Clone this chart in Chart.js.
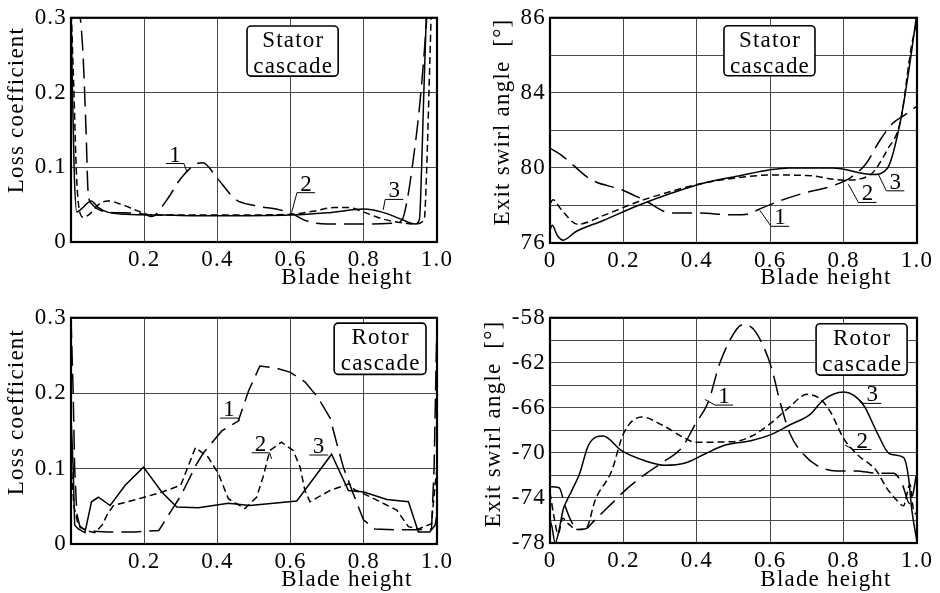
<!DOCTYPE html>
<html>
<head>
<meta charset="utf-8">
<script src="https://cdn.jsdelivr.net/npm/chart.js@4/dist/chart.umd.min.js"></script>
<style>
  html, body { margin: 0; padding: 0; background: #fff; }
  #wrap { position: relative; width: 940px; height: 593px; overflow: hidden; background: #fff; }
  #wrap canvas { position: absolute; }
</style>
</head>
<body>
<div id="wrap">
  <canvas id="statorLoss"  width="470" height="300" style="left:0;top:0;width:470px;height:300px"></canvas>
  <canvas id="statorAngle" width="470" height="300" style="left:470px;top:0;width:470px;height:300px"></canvas>
  <canvas id="rotorLoss"   width="470" height="293" style="left:0;top:300px;width:470px;height:293px"></canvas>
  <canvas id="rotorAngle"  width="470" height="293" style="left:470px;top:300px;width:470px;height:293px"></canvas>
</div>
<script>
// ---- tick labels ----
const X_TICKS_LOSS  = ['', '0.2', '0.4', '0.6', '0.8', '1.0'];
const X_TICKS_ANGLE = ['0', '0.2', '0.4', '0.6', '0.8', '1.0'];
const Y_TICKS_LOSS  = ['0', '0.1', '0.2', '0.3'];
const Y_TICKS_STATOR_ANGLE = ['76', '', '80', '', '84', '', '86'];
const Y_TICKS_ROTOR_ANGLE  = ['-78', '', '-74', '', '-70', '', '-66', '', '-62', '', '-58'];

// ---- stator cascade: loss coefficient vs blade height ----
const STATOR_LOSS_1 = [[0.022,0.32],[0.033,0.25],[0.041,0.15],[0.047,0.065],[0.055,0.052],[0.07,0.045],[0.1,0.04],[0.15,0.039],[0.2,0.037],[0.22,0.034],[0.26,0.055],[0.3,0.085],[0.34,0.104],[0.36,0.106],[0.4,0.085],[0.45,0.057],[0.5,0.049],[0.57,0.043],[0.6,0.039],[0.63,0.031],[0.66,0.026],[0.7,0.024],[0.8,0.024],[0.88,0.025],[0.905,0.03],[0.92,0.06],[0.935,0.11],[0.95,0.17],[0.963,0.24],[0.975,0.32]];
const STATOR_LOSS_2 = [[0,0.32],[0.008,0.2],[0.015,0.09],[0.022,0.045],[0.034,0.033],[0.05,0.037],[0.075,0.05],[0.1,0.055],[0.14,0.05],[0.18,0.042],[0.22,0.036],[0.3,0.036],[0.45,0.036],[0.6,0.037],[0.66,0.041],[0.72,0.046],[0.76,0.046],[0.8,0.04],[0.85,0.031],[0.9,0.026],[0.94,0.024],[0.965,0.03],[0.972,0.1],[0.978,0.2],[0.985,0.32]];
const STATOR_LOSS_3 = [[0,0.32],[0.004,0.2],[0.009,0.09],[0.016,0.04],[0.03,0.045],[0.055,0.055],[0.075,0.046],[0.1,0.04],[0.15,0.037],[0.25,0.036],[0.4,0.035],[0.6,0.036],[0.7,0.039],[0.8,0.044],[0.85,0.04],[0.9,0.031],[0.94,0.024],[0.952,0.03],[0.958,0.1],[0.964,0.2],[0.972,0.32]];

// ---- stator cascade: exit swirl angle vs blade height ----
const STATOR_ANGLE_1 = [[0,81.05],[0.03,80.7],[0.06,80.2],[0.11,79.4],[0.2,78.8],[0.26,78.25],[0.33,77.6],[0.4,77.6],[0.5,77.5],[0.54,77.55],[0.57,77.8],[0.62,78.2],[0.69,78.65],[0.77,79.05],[0.82,79.5],[0.86,80.2],[0.9,81.5],[0.935,82.4],[0.965,82.8],[1.0,83.3]];
const STATOR_ANGLE_2 = [[0,78.1],[0.008,78.3],[0.03,77.8],[0.075,77.0],[0.15,77.5],[0.24,78.2],[0.33,78.75],[0.42,79.2],[0.5,79.45],[0.6,79.62],[0.7,79.6],[0.8,79.35],[0.87,79.6],[0.92,81.0],[0.955,82.5],[0.985,86.5],[1.0,87.8]];
const STATOR_ANGLE_3 = [[0,76.7],[0.006,76.95],[0.02,76.4],[0.036,76.15],[0.07,76.6],[0.145,77.2],[0.24,78.0],[0.33,78.65],[0.42,79.2],[0.52,79.6],[0.6,79.9],[0.65,80.0],[0.77,80.0],[0.88,79.65],[0.92,80.0],[0.955,82.5],[0.98,85.5],[1.0,88.3]];

// ---- rotor cascade: loss coefficient vs blade height ----
const ROTOR_LOSS_1 = [[0,0.3],[0.006,0.2],[0.01,0.1],[0.016,0.04],[0.025,0.022],[0.05,0.017],[0.1,0.016],[0.175,0.016],[0.24,0.018],[0.275,0.045],[0.3,0.064],[0.343,0.106],[0.362,0.121],[0.412,0.15],[0.457,0.163],[0.485,0.203],[0.516,0.236],[0.562,0.233],[0.598,0.228],[0.639,0.215],[0.675,0.194],[0.708,0.167],[0.727,0.132],[0.744,0.102],[0.771,0.067],[0.799,0.032],[0.83,0.02],[0.885,0.019],[0.95,0.019],[0.985,0.02],[0.992,0.1],[0.996,0.2],[1.0,0.3]];
const ROTOR_LOSS_2 = [[0,0.11],[0.008,0.05],[0.02,0.025],[0.04,0.018],[0.065,0.015],[0.085,0.025],[0.1,0.04],[0.116,0.051],[0.2,0.062],[0.25,0.069],[0.3,0.078],[0.34,0.128],[0.375,0.115],[0.403,0.093],[0.43,0.06],[0.475,0.047],[0.507,0.062],[0.525,0.089],[0.543,0.124],[0.575,0.135],[0.607,0.124],[0.626,0.102],[0.639,0.071],[0.653,0.056],[0.708,0.071],[0.76,0.08],[0.775,0.072],[0.82,0.062],[0.89,0.045],[0.922,0.023],[0.95,0.02],[0.985,0.027],[0.995,0.08],[1.0,0.1]];
const ROTOR_LOSS_3 = [[0,0.17],[0.006,0.1],[0.01,0.025],[0.02,0.02],[0.038,0.015],[0.056,0.056],[0.075,0.062],[0.107,0.051],[0.148,0.078],[0.198,0.102],[0.248,0.069],[0.289,0.049],[0.348,0.048],[0.43,0.054],[0.489,0.051],[0.617,0.057],[0.712,0.119],[0.758,0.071],[0.8,0.069],[0.863,0.059],[0.922,0.056],[0.949,0.016],[0.98,0.016],[0.995,0.025],[1.0,0.04]];

// ---- rotor cascade: exit swirl angle vs blade height ----
const ROTOR_ANGLE_1 = [[0,-73.0],[0.025,-73.1],[0.04,-74.6],[0.06,-76.2],[0.08,-76.8],[0.1,-76.7],[0.118,-76.1],[0.168,-74.5],[0.204,-73.35],[0.259,-71.9],[0.313,-70.7],[0.359,-69.55],[0.395,-67.5],[0.431,-65.5],[0.463,-62.0],[0.509,-59.0],[0.527,-58.6],[0.554,-59.0],[0.581,-60.5],[0.604,-62.5],[0.627,-65.5],[0.654,-68.3],[0.69,-70.1],[0.727,-71.1],[0.78,-71.6],[0.835,-71.6],[0.89,-71.8],[0.936,-71.8],[0.96,-72.8],[0.98,-74.5],[0.99,-73.5],[1.0,-71.5]];
const ROTOR_ANGLE_2 = [[0,-73.5],[0.01,-75.5],[0.022,-77.2],[0.035,-75.8],[0.05,-76.3],[0.075,-76.8],[0.1,-76.6],[0.123,-74.2],[0.168,-71.6],[0.2,-68.3],[0.25,-66.8],[0.304,-67.5],[0.368,-68.7],[0.395,-69.05],[0.5,-69.0],[0.55,-68.5],[0.6,-67.4],[0.65,-66.0],[0.7,-64.8],[0.736,-65.2],[0.763,-66.3],[0.8,-68.7],[0.836,-70.1],[0.89,-71.6],[0.917,-73.1],[0.945,-74.2],[0.963,-74.7],[0.981,-72.8],[0.99,-75.0],[1.0,-75.5]];
const ROTOR_ANGLE_3 = [[0,-76.0],[0.005,-76.5],[0.014,-78.0],[0.025,-76.8],[0.036,-75.0],[0.045,-74.3],[0.06,-73.3],[0.08,-71.9],[0.105,-69.3],[0.145,-68.5],[0.195,-69.8],[0.259,-70.7],[0.313,-71.1],[0.368,-70.9],[0.422,-70.1],[0.477,-69.3],[0.55,-68.9],[0.6,-68.4],[0.654,-67.5],[0.708,-66.6],[0.745,-65.3],[0.8,-64.6],[0.854,-65.75],[0.89,-68.1],[0.926,-70.1],[0.963,-70.4],[0.977,-72.2],[0.986,-75.1],[0.999,-77.7]];

// ---- styling ----
const FONT_FAMILY = '"Liberation Serif", "Times New Roman", serif';
const FONT_SIZE = 23;
const LETTER_SPACING = '1.2px';
const DASHES = [[20, 8], [7, 4], []];   // curve 1 long dash, curve 2 short dash, curve 3 solid

// Frame, legend box, numbered call-outs and axis titles.
const decor = {
  id: 'decor',
  beforeDraw(chart) {
    chart.ctx.letterSpacing = LETTER_SPACING;
  },
  afterDatasetsDraw(chart, args, o) {
    const { ctx, chartArea: a, scales: { x, y } } = chart;
    ctx.save();
    ctx.letterSpacing = LETTER_SPACING;
    ctx.fillStyle = '#000';
    ctx.strokeStyle = '#000';

    // plot frame
    ctx.lineWidth = 2.2;
    ctx.setLineDash([]);
    ctx.strokeRect(a.left, a.top, a.right - a.left, a.bottom - a.top);

    ctx.font = `${FONT_SIZE}px ${FONT_FAMILY}`;

    // cascade name box
    if (o.box) {
      const bx0 = x.getPixelForValue(o.box.x0), bx1 = x.getPixelForValue(o.box.x1);
      const by0 = y.getPixelForValue(o.box.y0), by1 = y.getPixelForValue(o.box.y1);
      ctx.beginPath();
      ctx.roundRect(bx0, by0, bx1 - bx0, by1 - by0, 4);
      ctx.fillStyle = '#fff';
      ctx.fill();
      ctx.lineWidth = 1.6;
      ctx.stroke();
      ctx.fillStyle = '#000';
      ctx.textAlign = 'center';
      ctx.textBaseline = 'alphabetic';
      const cx = (bx0 + bx1) / 2 + 0.6;
      o.box.lines.forEach((t, i) => ctx.fillText(t, cx, by0 + 21 + i * 26));
    }

    // numbered curve call-outs
    ctx.lineWidth = 1;
    ctx.textAlign = 'center';
    ctx.textBaseline = 'alphabetic';
    (o.callouts || []).forEach(c => {
      const tx = x.getPixelForValue(c.tx), ty = y.getPixelForValue(c.ty);
      const px = x.getPixelForValue(c.px), py = y.getPixelForValue(c.py);
      ctx.fillText(c.n, tx + 0.6, ty - 2);
      const x0 = tx - 9, x1 = tx + 9;
      const end = Math.abs(px - x0) < Math.abs(px - x1) ? x0 : x1;
      ctx.beginPath();
      ctx.moveTo(x0, ty);
      ctx.lineTo(x1, ty);
      ctx.moveTo(end, ty);
      ctx.lineTo(px, py);
      ctx.stroke();
    });

    // axis titles
    if (o.xTitle) {
      ctx.textAlign = 'center';
      ctx.textBaseline = 'middle';
      ctx.fillText(o.xTitle.text, o.xTitle.cx, o.xTitle.cy);
    }
    if (o.yTitle) {
      ctx.translate(o.yTitle.cx, o.yTitle.cy);
      ctx.rotate(-Math.PI / 2);
      ctx.textAlign = 'center';
      ctx.textBaseline = 'middle';
      ctx.fillText(o.yTitle.text, 0, 0);
    }
    ctx.restore();
  }
};

function build(id, spec) {
  const tickFont = { family: FONT_FAMILY, size: FONT_SIZE };
  const grid = { color: '#4a4a4a', lineWidth: 1, drawTicks: false };
  return new Chart(document.getElementById(id), {
    type: 'line',
    data: {
      datasets: spec.series.map((s, i) => ({
        data: s,
        borderColor: '#000',
        borderWidth: 1.5,
        borderDash: DASHES[i],
        pointRadius: 0,
        fill: false,
        tension: spec.smooth ? 0.4 : 0,
        cubicInterpolationMode: spec.smooth ? 'monotone' : 'default'
      }))
    },
    options: {
      responsive: false,
      animation: false,
      events: [],
      layout: { padding: spec.pad },
      plugins: {
        legend: { display: false },
        tooltip: { enabled: false },
        decor: spec.decor
      },
      scales: {
        x: {
          type: 'linear', min: 0, max: 1,
          afterFit(s) { s.height = spec.xh; },
          grid, border: { display: false },
          ticks: {
            stepSize: 0.2, autoSkip: false, maxRotation: 0, padding: 4,
            color: '#000', font: tickFont,
            callback: (v, i) => spec.xLabels[i]
          }
        },
        y: {
          type: 'linear', min: spec.yMin, max: spec.yMax,
          afterFit(s) { s.width = spec.yw; },
          grid, border: { display: false },
          ticks: {
            stepSize: spec.yStep, autoSkip: false, padding: 4,
            color: '#000', font: tickFont,
            callback: (v, i) => spec.yLabels[i]
          }
        }
      }
    },
    plugins: [decor]
  });
}

build('statorLoss', {
  series: [STATOR_LOSS_1, STATOR_LOSS_2, STATOR_LOSS_3], smooth: true,
  pad: { left: 0, top: 14, right: 33, bottom: 0 }, yw: 71, xh: 58,
  yMin: 0, yMax: 0.3, yStep: 0.1, xLabels: X_TICKS_LOSS, yLabels: Y_TICKS_LOSS,
  decor: {
    box: { x0: 0.481, x1: 0.73, y0: 0.289, y1: 0.222, lines: ['Stator', 'cascade'] },
    callouts: [
      { n: '1', tx: 0.284, ty: 0.105, px: 0.316, py: 0.095 },
      { n: '2', tx: 0.642, ty: 0.066, px: 0.603, py: 0.040 },
      { n: '3', tx: 0.883, ty: 0.057, px: 0.853, py: 0.043 }
    ],
    xTitle: { text: 'Blade height', cx: 347, cy: 278 },
    yTitle: { text: 'Loss coefficient', cx: 17, cy: 110 }
  }
});

build('statorAngle', {
  series: [STATOR_ANGLE_1, STATOR_ANGLE_2, STATOR_ANGLE_3], smooth: true,
  pad: { left: 0, top: 14, right: 23, bottom: 0 }, yw: 80, xh: 57,
  yMin: 76, yMax: 88, yStep: 2, xLabels: X_TICKS_ANGLE, yLabels: Y_TICKS_STATOR_ANGLE,
  decor: {
    box: { x0: 0.474, x1: 0.722, y0: 87.58, y1: 84.91, lines: ['Stator', 'cascade'] },
    callouts: [
      { n: '1', tx: 0.627, ty: 76.89, px: 0.572, py: 77.73 },
      { n: '2', tx: 0.865, ty: 78.16, px: 0.813, py: 79.13 },
      { n: '3', tx: 0.941, ty: 78.78, px: 0.895, py: 79.65 }
    ],
    xTitle: { text: 'Blade height', cx: 356, cy: 278 },
    yTitle: { text: 'Exit swirl angle  [°]', cx: 33, cy: 122 }
  }
});

build('rotorLoss', {
  series: [ROTOR_LOSS_1, ROTOR_LOSS_2, ROTOR_LOSS_3], smooth: false,
  pad: { left: 0, top: 14, right: 33, bottom: 0 }, yw: 71, xh: 49,
  yMin: 0, yMax: 0.3, yStep: 0.1, xLabels: X_TICKS_LOSS, yLabels: Y_TICKS_LOSS,
  decor: {
    box: { x0: 0.719, x1: 0.97, y0: 0.293, y1: 0.225, lines: ['Rotor', 'cascade'] },
    callouts: [
      { n: '1', tx: 0.432, ty: 0.167, px: 0.46, py: 0.163 },
      { n: '2', tx: 0.518, ty: 0.121, px: 0.548, py: 0.113 },
      { n: '3', tx: 0.676, ty: 0.118, px: 0.703, py: 0.117 }
    ],
    xTitle: { text: 'Blade height', cx: 347, cy: 280 },
    yTitle: { text: 'Loss coefficient', cx: 17, cy: 112 }
  }
});

build('rotorAngle', {
  series: [ROTOR_ANGLE_1, ROTOR_ANGLE_2, ROTOR_ANGLE_3], smooth: true,
  pad: { left: 0, top: 15, right: 23, bottom: 0 }, yw: 80, xh: 50,
  yMin: -78, yMax: -58, yStep: 2, xLabels: X_TICKS_ANGLE, yLabels: Y_TICKS_ROTOR_ANGLE,
  decor: {
    box: { x0: 0.725, x1: 0.973, y0: -58.53, y1: -63.09, lines: ['Rotor', 'cascade'] },
    callouts: [
      { n: '1', tx: 0.474, ty: -65.75, px: 0.422, py: -65.25 },
      { n: '2', tx: 0.851, ty: -69.7, px: 0.804, py: -69.3 },
      { n: '3', tx: 0.878, ty: -65.6, px: 0.845, py: -65.3 }
    ],
    xTitle: { text: 'Blade height', cx: 356, cy: 280 },
    yTitle: { text: 'Exit swirl angle  [°]', cx: 24, cy: 124 }
  }
});
</script>
</body>
</html>
